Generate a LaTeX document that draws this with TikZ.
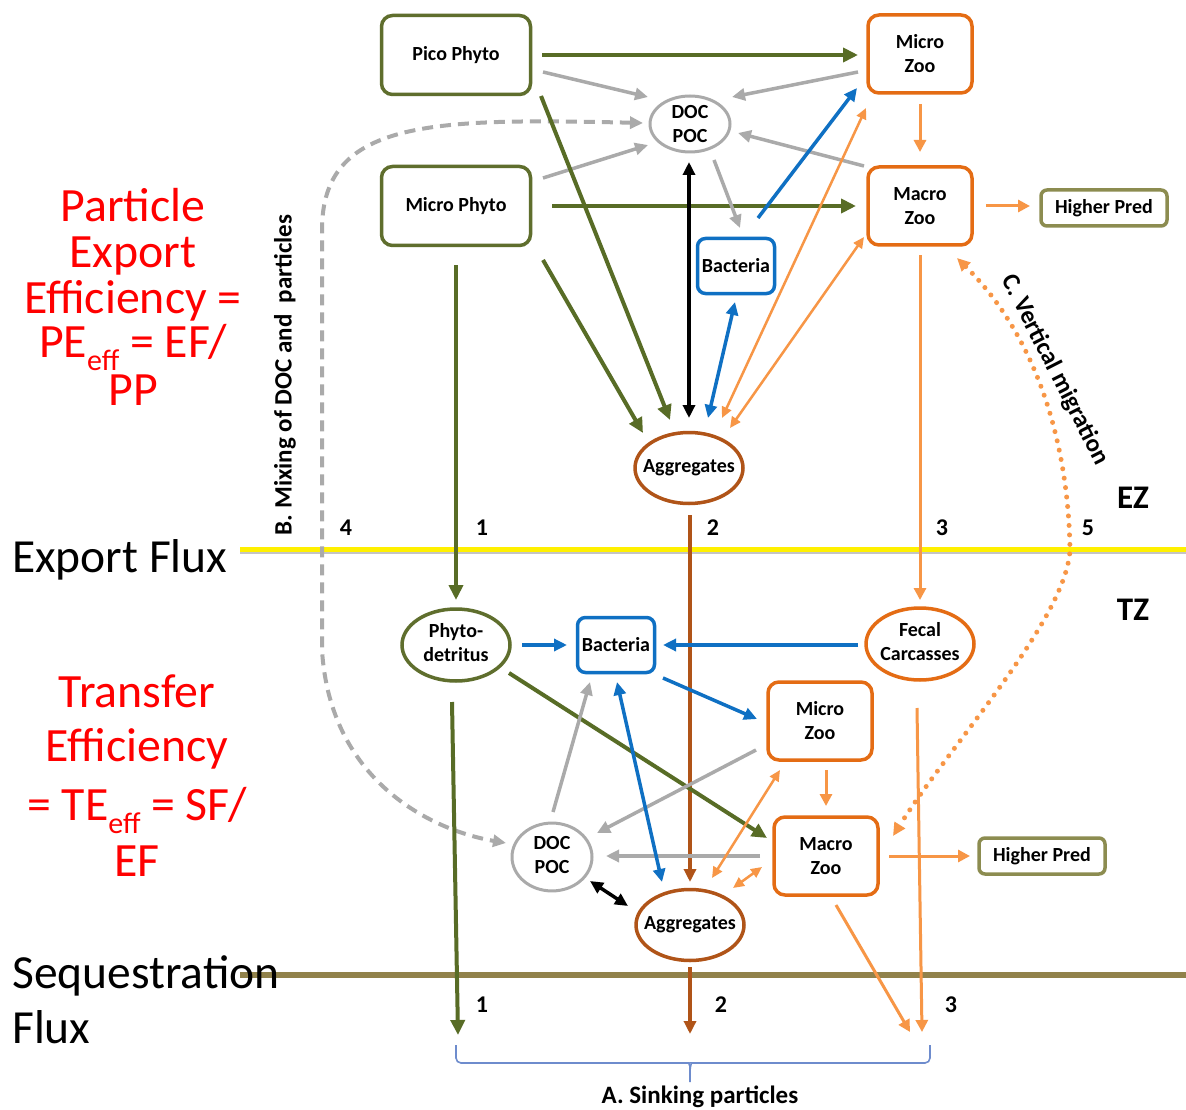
\documentclass[tikz,border=0pt]{standalone}
\usepackage{fontspec}
\setmainfont{Carlito}
\usetikzlibrary{arrows.meta,calc,shapes.geometric}
\definecolor{olv}{RGB}{88,108,38}
\definecolor{oboxc}{RGB}{95,110,45}
\definecolor{obox}{RGB}{228,108,20}
\definecolor{oarr}{RGB}{247,150,70}
\definecolor{bluc}{RGB}{15,112,195}
\definecolor{gryc}{RGB}{170,170,170}
\definecolor{brnc}{RGB}{176,84,24}
\definecolor{hpc}{RGB}{140,140,80}
\definecolor{ylw}{RGB}{255,240,0}
\definecolor{seqc}{RGB}{145,130,75}
\definecolor{brc}{RGB}{110,140,205}
\definecolor{redc}{RGB}{255,0,0}
\newcommand{\zwbox}[1]{\makebox[0pt]{#1}}
\newcommand{\twol}[2]{\zwbox{\begin{tabular}{@{}c@{}}#1\\#2\end{tabular}}}
\newcommand{\effsub}{\raisebox{-0.28em}{\fontsize{30}{30}\selectfont eff}}
\begin{document}
\begin{tikzpicture}[x=1pt,y=-1pt,
  lbl/.style={font=\fontsize{20}{24}\selectfont\bfseries, align=center, inner sep=0pt, text=black},
  rbox/.style={lbl, draw, rounded corners=11pt, line width=3.5pt, fill=white},
  oval/.style={lbl, ellipse, draw, line width=3.5pt, fill=white},
  phyto/.style={rbox, draw=oboxc, minimum width=149pt, minimum height=79pt},
  zoo/.style={rbox, draw=obox, minimum width=104pt, minimum height=78pt},
  bact/.style={rbox, draw=bluc, rounded corners=8pt, minimum width=77pt, minimum height=55pt},
  hpred/.style={rbox, draw=hpc, rounded corners=6pt, minimum width=126pt, minimum height=36pt},
  docn/.style={oval, draw=gryc, line width=3pt, minimum width=80pt, minimum height=56pt},
  aggn/.style={oval, draw=brnc, line width=3.5pt, minimum width=108pt, minimum height=71pt},
  numl/.style={font=\fontsize{24}{28}\selectfont\bfseries, inner sep=0pt},
  capl/.style={font=\fontsize{25}{30}\selectfont\bfseries, inner sep=0pt},
  zonel/.style={font=\fontsize{33}{36}\selectfont\bfseries, inner sep=0pt},
  bigt/.style={font=\fontsize{47.5}{50}\selectfont, inner sep=0pt, anchor=base west},
  redt/.style={font=\fontsize{47.8}{50}\selectfont, inner sep=0pt, anchor=base, text=redc},
  olvA/.style={draw=olv, line width=4pt, -{Triangle[length=15pt,width=14pt]}},
  gryA/.style={draw=gryc, line width=3.5pt, -{Triangle[length=13pt,width=12pt]}},
  bluA/.style={draw=bluc, line width=3.5pt, -{Triangle[length=13pt,width=12pt]}},
  bluB/.style={draw=bluc, line width=3.5pt, {Triangle[length=13pt,width=12pt]}-{Triangle[length=13pt,width=12pt]}},
  orgA/.style={draw=oarr, line width=3pt, -{Triangle[length=12pt,width=12pt]}},
  orgB/.style={draw=oarr, line width=2.5pt, {Triangle[length=11pt,width=10pt]}-{Triangle[length=11pt,width=10pt]}},
  blkB/.style={draw=black, line width=3.5pt, {Triangle[length=13pt,width=12pt]}-{Triangle[length=13pt,width=12pt]}},
  brnA/.style={draw=brnc, line width=3.5pt, -{Triangle[length=13pt,width=12pt]}}
]
\useasboundingbox (0,0) rectangle (1186,1110);
\fill[white] (0,0) rectangle (1186,1110);

% zone lines
\coordinate (ya) at (240,549);
\coordinate (yb) at (1186,549);
\coordinate (sa) at (240,975);
\coordinate (sb) at (1186,975);
\draw[gryc!70, line width=2pt] ($(ya)+(0,4)$) -- ($(yb)+(0,4)$);
\draw[ylw, line width=5pt] (ya) -- (yb);
\draw[seqc, line width=6pt] (sa) -- (sb);

% left texts
\node[bigt] (ef) at (12,572) {Export Flux};
\node[bigt] (sf1) at (12,988) {Sequestration};
\node[bigt] (sf2) at (12,1043) {Flux};
\node[redt] (p1) at (133,222) {Particle};
\node[redt] (p2) at (133,267) {Export};
\node[redt] (p3) at (133,313) {Efficiency =};
\node[redt] (p4) at (133,357) {PE\effsub{} = EF/};
\node[redt] (p5) at (133,405) {PP};
\node[redt] (t1) at (137,707) {Transfer};
\node[redt] (t2) at (137,761) {Efficiency};
\node[redt] (t3) at (137,820) {= TE\effsub{} = SF/};
\node[redt] (t4) at (137,876) {EF};

% nodes upper
\node[phyto] (pico) at (456,55) {Pico Phyto};
\node[phyto] (mphy) at (456,206) {Micro Phyto};
\node[zoo] (mzoo1) at (920,54) {Micro\\Zoo};
\node[zoo] (Mzoo1) at (920,206) {Macro\\Zoo};
\node[hpred] (hp1) at (1104,208) {Higher Pred};
\node[docn] (doc1) at (690,124) {DOC\\POC};
\node[bact] (bac1) at (736,266) {Bacteria};
\node[aggn] (agg1) at (689,468) {\zwbox{Aggregates}};

% nodes lower
\node[oval, draw=oboxc, minimum width=108pt, minimum height=72pt] (phd) at (456,645) {\twol{Phyto-}{detritus}};
\node[bact] (bac2) at (616,645) {Bacteria};
\node[oval, draw=obox, minimum width=108pt, minimum height=72pt] (fec) at (920,644) {\twol{Fecal}{Carcasses}};
\node[zoo] (mzoo2) at (820,721) {Micro\\Zoo};
\node[zoo] (Mzoo2) at (826,856) {Macro\\Zoo};
\node[hpred] (hp2) at (1042,856) {Higher Pred};
\node[docn] (doc2) at (552,857) {\twol{DOC}{POC}};
\node[aggn] (agg2) at (690,925) {\zwbox{Aggregates}};

% free ends
\coordinate (s1) at (458,1035);
\coordinate (s2) at (690,1034);
\coordinate (s3a) at (910,1032);
\coordinate (s3b) at (922,1032);

% labels
\node[numl] (n4) at (346,528) {4};
\node[numl] (n1) at (482,528) {1};
\node[numl] (n2) at (713,528) {2};
\node[numl] (n3) at (942,528) {3};
\node[numl] (n5) at (1088,528) {5};
\node[numl] (m1) at (482,1005) {1};
\node[numl] (m2) at (721,1005) {2};
\node[numl] (m3) at (951,1005) {3};
\node[zonel] (ez) at (1133,498) {EZ};
\node[zonel] (tz) at (1133,610) {TZ};
\node[capl, rotate=90] (mixl) at (285,375) {B. Mixing of DOC and \ particles};
\node[capl, rotate=-63] (vml) at (1055,370) {C. Vertical migration};
\node[capl] (sinkl) at (700,1097) {A. Sinking particles};

% brace
\coordinate (bl) at (456,1045);
\coordinate (br) at (930,1045);
\coordinate (bt) at (690,1082);
\draw[brc, line width=1.6pt, rounded corners=5pt]
  (bl) |- (684,1063) .. controls (688,1063) and (690,1066) .. (690,1071) -- (bt);
\draw[brc, line width=1.6pt, rounded corners=5pt]
  (br) |- (696,1063) .. controls (692,1063) and (690,1066) .. (690,1071);

% mixing dashed
\draw[gryc, line width=4pt, dash pattern=on 11pt off 7pt, {Triangle[length=13pt,width=12pt]}-{Triangle[length=13pt,width=12pt]}]
  ($(doc1)+(-47,-1)$) .. controls (430,118) and (322,120) .. (322,230) -- (322,650)
  .. controls (330,780) and (430,830) .. ($(doc2)+(-46,-14)$);

% vertical migration dotted
\draw[oarr, line width=5pt, dash pattern=on 0pt off 9.5pt, line cap=round, {Triangle[length=13pt,width=12pt]}-{Triangle[length=13pt,width=12pt]}]
  ($(Mzoo1)+(37,52)$) .. controls (1030,330) and (1068,430) .. (1070,550)
  .. controls (1066,620) and (950,745) .. ($(Mzoo2)+(67,-20)$);

% upper connectors
\draw[olvA] ($(pico)+(86,0)$) -- ($(mzoo1)+(-62,1)$);
\draw[gryA] ($(pico)+(87,17)$) -- ($(doc1)+(-42,-27)$);
\draw[gryA] ($(mzoo1)+(-62,18)$) -- ($(doc1)+(42,-27)$);
\draw[gryA] ($(mphy)+(87,-28)$) -- ($(doc1)+(-42,21)$);
\draw[gryA] ($(Mzoo1)+(-56,-40)$) -- ($(doc1)+(48,9)$);
\draw[olvA] ($(pico)+(85,41)$) -- ($(agg1)+(-19,-48)$);
\draw[olvA] ($(mphy)+(96,0)$) -- ($(Mzoo1)+(-64,0)$);
\draw[orgA] ($(Mzoo1)+(66,0)$) -- ($(hp1)+(-74,-2)$);
\draw[orgA] ($(mzoo1)+(0,50)$) -- ($(Mzoo1)+(0,-54)$);
\draw[olvA] ($(mphy)+(87,54)$) -- ($(agg1)+(-46,-35)$);
\draw[blkB] ($(doc1)+(-1,38)$) -- ($(agg1)+(0,-50)$);
\draw[gryA] ($(doc1)+(24,36)$) -- ($(bac1)+(4,-38)$);
\draw[bluA] ($(bac1)+(22,-48)$) -- ($(mzoo1)+(-63,34)$);
\draw[bluB] ($(bac1)+(-1,36)$) -- ($(agg1)+(19,-50)$);
\draw[orgB] ($(agg1)+(33,-50)$) -- ($(mzoo1)+(-54,54)$);
\draw[orgB] ($(agg1)+(41,-40)$) -- ($(Mzoo1)+(-56,31)$);
\draw[orgA] ($(Mzoo1)+(0,49)$) -- ($(fec)+(0,-44)$);
\draw[olvA] ($(mphy)+(0,59)$) -- ($(phd)+(0,-45)$);
\draw[brnA] ($(agg1)+(1,47)$) -- ($(agg2)+(0,-43)$);

% lower connectors
\draw[bluA] ($(phd)+(66,0)$) -- ($(bac2)+(-49,0)$);
\draw[bluA] ($(fec)+(-62,1)$) -- ($(bac2)+(47,0)$);
\draw[bluA] ($(bac2)+(47,33)$) -- ($(mzoo2)+(-63,-2)$);
\draw[olvA] ($(phd)+(53,28)$) -- ($(Mzoo2)+(-59,-18)$);
\draw[olvA] ($(phd)+(-4,57)$) -- (s1);
\draw[gryA] ($(doc2)+(1,-45)$) -- ($(bac2)+(-26,37)$);
\draw[gryA] ($(mzoo2)+(-64,29)$) -- ($(doc2)+(45,-24)$);
\draw[gryA] ($(Mzoo2)+(-66,0)$) -- ($(doc2)+(54,-1)$);
\draw[bluB] ($(bac2)+(1,37)$) -- ($(agg2)+(-28,-43)$);
\draw[orgB] ($(agg2)+(22,-47)$) -- ($(mzoo2)+(-40,49)$);
\draw[orgB] ($(agg2)+(43,-37)$) -- ($(Mzoo2)+(-64,11)$);
\draw[orgA] ($(mzoo2)+(6,49)$) -- ($(Mzoo2)+(0,-50)$);
\draw[blkB] ($(doc2)+(38,24)$) -- ($(agg2)+(-62,-19)$);
\draw[orgA] ($(Mzoo2)+(63,0)$) -- ($(hp2)+(-72,0)$);
\draw[orgA] ($(fec)+(-3,64)$) -- (s3b);
\draw[orgA] ($(Mzoo2)+(10,49)$) -- (s3a);
\draw[brnA] ($(agg2)+(0,42)$) -- (s2);
\end{tikzpicture}
\end{document}
